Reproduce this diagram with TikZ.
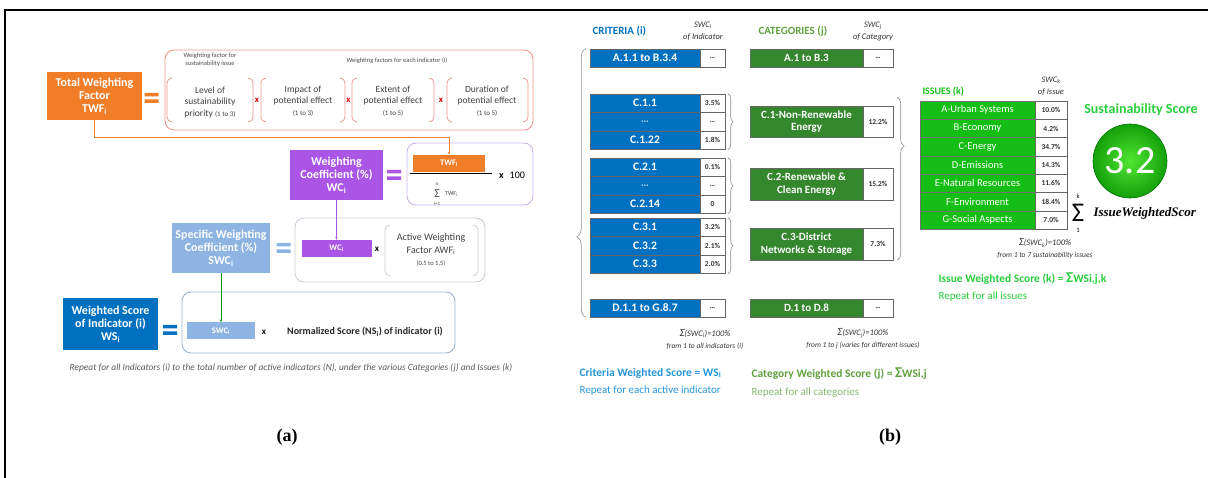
\documentclass[tikz,border=0pt]{standalone}
\usepackage{fontspec}
\setmainfont{Carlito}
\newfontfamily\labfont{Liberation Serif}
\usepackage{tikz}
\usetikzlibrary{decorations.pathreplacing, arrows.meta}

\definecolor{twfOrange}{RGB}{240,125,40}
\definecolor{wcPurple}{RGB}{170,85,230}
\definecolor{swcBlue}{RGB}{141,180,226}
\definecolor{wsBlue}{RGB}{0,112,192}
\definecolor{catGreen}{RGB}{52,135,45}
\definecolor{issueGreen}{RGB}{20,190,20}
\definecolor{scoreGreen}{RGB}{40,205,60}
\definecolor{ballLight}{RGB}{80,230,50}
\definecolor{ballDark}{RGB}{20,160,10}
\definecolor{redLine}{RGB}{240,150,140}
\definecolor{lavLine}{RGB}{205,180,235}
\definecolor{greyLine}{RGB}{205,205,215}
\definecolor{nsLine}{RGB}{160,180,205}
\definecolor{critText}{RGB}{35,150,215}
\definecolor{catText}{RGB}{95,160,60}
\definecolor{noteGrey}{RGB}{90,90,90}

\begin{document}
\begin{tikzpicture}[x=1pt, y=-1pt,
    fbox/.style={inner sep=0pt, align=center, text=white, font=\fontsize{12}{13}\selectfont\bfseries},
    roundbox/.style={draw, rounded corners=9pt, line width=0.9pt, inner sep=0pt},
    chip/.style={inner sep=0pt, text=white, font=\fontsize{8.5}{9}\selectfont\bfseries},
    paren/.style={rounded corners=5pt, line width=0.8pt},
    factor/.style={align=center, text=black!75, font=\fontsize{9.5}{11.5}\selectfont},
    times/.style={font=\fontsize{9}{9}\selectfont\bfseries},
    limit/.style={inner sep=0pt, font=\fontsize{5}{5}\selectfont},
    crit/.style={draw=black!60, line width=0.4pt, fill=wsBlue, inner sep=0pt, minimum width=110, minimum height=18.5, text=white, font=\fontsize{11.5}{13}\selectfont\bfseries},
    cat/.style={draw=black!60, line width=0.4pt, fill=catGreen, inner sep=0pt, minimum width=113, text=white, align=center, font=\fontsize{11}{12.5}\selectfont\bfseries},
    issue/.style={draw=black!55, line width=0.4pt, fill=issueGreen, inner sep=0pt, minimum width=115, minimum height=18.3, text=white, font=\fontsize{10.5}{12}\selectfont},
    cell/.style={draw=black!60, line width=0.4pt, fill=white, inner sep=0pt, text=black!80, font=\fontsize{7.5}{9}\selectfont\bfseries},
    swchead/.style={align=center, font=\fontsize{8.5}{12}\selectfont\itshape, text=black!80},
    sumnote/.style={align=center, font=\fontsize{8.5}{12}\selectfont\itshape, text=black!80},
    curly/.style={decorate, draw=black!45, line width=0.6pt},
]
    \useasboundingbox (0,0) rectangle (1208,478);
    \draw[line width=1.5pt] (5,478) -- (5,10) -- (1208,10);

    % (a) Total Weighting Factor
    \node[fbox, fill=twfOrange, minimum width=95, minimum height=48] (twf) at (94.5,96) {Total Weighting\\Factor\\TWF\textsubscript{i}};
    \node[roundbox, draw=redLine, minimum width=368, minimum height=80] (factors) at (349,90) {};
    \node[font=\fontsize{6.5}{8}\selectfont, align=center, text=black!70] (issuenote) at (210,60) {Weighting factor for\\sustainability issue};
    \node[font=\fontsize{6.5}{8}\selectfont, text=black!70] (indnote) at (397,61) {Weighting factors for each indicator (i)};
    \node[factor] (level) at (210,102) {Level of\\sustainability\\priority {\fontsize{7}{8}\selectfont(1 to 3)}};
    \node[factor] (impact) at (303,101) {Impact of\\potential effect\\{\fontsize{7}{8}\selectfont(1 to 3)}};
    \node[factor] (extent) at (393,101) {Extent of\\potential effect\\{\fontsize{7}{8}\selectfont(1 to 5)}};
    \node[factor] (duration) at (487,101) {Duration of\\potential effect\\{\fontsize{7}{8}\selectfont(1 to 5)}};
    \foreach \l/\r in {167/253, 261/345, 352/434, 447/528} {
        \draw[paren, draw=redLine] (\l+5,78) -- (\l,78) -- (\l,122) -- (\l+5,122);
        \draw[paren, draw=redLine] (\r-5,78) -- (\r,78) -- (\r,122) -- (\r-5,122);
    }
    \foreach \xx [count=\k] in {257, 348.5, 441}
        \node[times, text=red!85!black] (mul\k) at (\xx,100) {x};

    % equals signs
    \foreach \xx/\yy/\col in {151.5/98/twfOrange, 394/175/wcPurple, 283.5/248/swcBlue, 170/330/wsBlue}
        \fill[\col] (\xx-7,\yy-5) rectangle (\xx+7,\yy-1.5) (\xx-7,\yy+1.5) rectangle (\xx+7,\yy+5);

    % (a) Weighting Coefficient
    \node[fbox, fill=wcPurple, minimum width=93, minimum height=50] (wc) at (336.5,175) {Weighting\\Coefficient (\%)\\WC\textsubscript{i}};
    \node[roundbox, draw=lavLine, minimum width=126, minimum height=62] (fracbox) at (470,174) {};
    \node[chip, fill=twfOrange, minimum width=72, minimum height=17] (twfnum) at (449,163.5) {TWF\textsubscript{i}};
    \draw[line width=0.9pt] (410,173) -- (492,173);
    \node[inner sep=0pt, font=\fontsize{12}{12}\selectfont, text=black!75] (twfsig) at (437,194) {Σ};
    \node[limit, text=black!75] (twfn) at (437,184) {n};
    \node[limit, text=black!75] (twfi) at (437,203.5) {i=1};
    \node[anchor=west, inner sep=0pt, font=\fontsize{6}{7}\selectfont, text=black!75] (twfden) at (445,194) {TWF\textsubscript{i}};
    \node[font=\fontsize{10}{12}\selectfont] (hundred) at (512,175) {\textbf{x}\hspace{6pt}100};
    \draw[twfOrange, line width=0.9pt, -{Stealth[length=3pt]}] (twf.south) -- ++(0,17) -| (twfnum.north);

    % (a) Specific Weighting Coefficient
    \node[fbox, fill=swcBlue, minimum width=98, minimum height=50] (swc) at (221,248) {Specific Weighting\\Coefficient (\%)\\SWC\textsubscript{i}};
    \node[roundbox, draw=greyLine, minimum width=190, minimum height=64] (awfbox) at (390,250) {};
    \node[chip, fill=wcPurple, minimum width=70, minimum height=17] (wcsmall) at (336.5,248.5) {WC\textsubscript{i}};
    \node[times] (mul4) at (377,249) {x};
    \node[factor, font=\fontsize{10}{12.5}\selectfont] (awf) at (431,250) {Active Weighting\\Factor AWF\textsubscript{i}\\{\fontsize{6.5}{8}\selectfont(0.5 to 1.5)}};
    \draw[paren, draw=greyLine] (390,225) -- (385,225) -- (385,276) -- (390,276);
    \draw[paren, draw=greyLine] (473,225) -- (478,225) -- (478,276) -- (473,276);
    \draw[wcPurple, line width=0.9pt, -{Stealth[length=3pt]}] (wc.south) -- (wcsmall.north);

    % (a) Weighted Score
    \node[fbox, fill=wsBlue, minimum width=95, minimum height=52] (ws) at (110.5,324) {Weighted Score\\of Indicator (i)\\WS\textsubscript{i}};
    \node[roundbox, draw=nsLine, minimum width=273, minimum height=61] (nsbox) at (318.5,322.5) {};
    \node[chip, fill=swcBlue, minimum width=68, minimum height=17] (swcsmall) at (221,331) {SWC\textsubscript{i}};
    \node[times] (mul5) at (264,332) {x};
    \node[font=\fontsize{10}{11}\selectfont\bfseries, text=black!85] (ns) at (365,332) {Normalized Score (NS\textsubscript{i}) of indicator (i)};
    \draw[green!60!black, line width=0.9pt, -{Stealth[length=3pt]}] (swc.south) -- (swcsmall.north);
    \node[font=\fontsize{9.4}{10}\selectfont\itshape, text=noteGrey] (note) at (291,368) {Repeat for all Indicators (i) to the total number of active indicators (N), under the various Categories (j) and Issues (k)};

    % panel labels
    \node[font=\labfont\fontsize{18}{20}\selectfont\bfseries] (laba) at (287,437) {(a)};
    \node[font=\labfont\fontsize{18}{20}\selectfont\bfseries] (labb) at (890,437) {(b)};

    % (b) Criteria
    \node[anchor=west, font=\fontsize{11}{13}\selectfont\bfseries, text=wsBlue] (crithead) at (589,31) {CRITERIA (i)};
    \node[swchead] (critswc) at (703,31) {SWC\textsubscript{i}\\of Indicator};
    \foreach \lab/\val/\yy [count=\k] in {A.1.1 to B.3.4/\ldots/58, C.1.1/3.5\%/103.25, {\color{white!65!wsBlue}\ldots}/\ldots/121.75, C.1.22/1.8\%/140.25, C.2.1/0.1\%/167.25, {\color{white!65!wsBlue}\ldots}/\ldots/185.75, C.2.14/0/204.25, C.3.1/3.2\%/227.25, C.3.2/2.1\%/245.75, C.3.3/2.0\%/264.25, D.1.1 to G.8.7/\ldots/308} {
        \node[crit] (crit\k) at (645,\yy) {\lab};
        \node[cell, minimum width=25, minimum height=18.5] (critv\k) at (712.5,\yy) {\val};
    }

    % (b) Categories
    \node[anchor=west, font=\fontsize{11}{13}\selectfont\bfseries, text=catText] (cathead) at (755,31) {CATEGORIES (j)};
    \node[swchead] (catswc) at (873,31) {SWC\textsubscript{j}\\of Category};
    \foreach \lab/\val/\yy/\hh [count=\k] in {A.1 to B.3/\ldots/58/18.5, {C.1-Non-Renewable\\Energy}/12.2\%/121.75/31, {C.2-Renewable \&\\Clean Energy}/15.2\%/184/32, {C.3-District\\Networks \& Storage}/7.3\%/244/32, D.1 to D.8/\ldots/308/18.5} {
        \node[cat, minimum height=\hh] (cat\k) at (806.5,\yy) {\lab};
        \node[cell, minimum width=30, minimum height=\hh] (catv\k) at (878,\yy) {\val};
    }

    % braces
    \foreach \a/\b in {2/4, 5/7, 8/10}
        \draw[curly, decoration={brace, amplitude=5pt}] ([xshift=3pt]critv\a.north east) -- ([xshift=3pt]critv\b.south east);
    \draw[curly, decoration={brace, amplitude=9pt, aspect=0.3}] ([xshift=-4pt]crit11.south west) -- ([xshift=-4pt]crit1.north west);
    \draw[curly, decoration={brace, amplitude=7pt, aspect=0.3}] ([xshift=4pt,yshift=9pt]catv2.north east) -- ([xshift=4pt]catv4.south east);

    % (b) Issues
    \node[anchor=west, font=\fontsize{10}{12}\selectfont\bfseries, text=issueGreen] (isshead) at (919,92) {ISSUES (k)};
    \node[swchead] (issswc) at (1051,86) {SWC\textsubscript{k}\\of Issue};
    \foreach \lab/\val [count=\k] in {A-Urban Systems/10.0\%, B-Economy/4.2\%, C-Energy/34.7\%, D-Emissions/14.3\%, E-Natural Resources/11.6\%, F-Environment/18.4\%, G-Social Aspects/7.0\%} {
        \node[issue] (iss\k) at (977.5,{101+(\k-0.5)*18.3}) {\lab};
        \node[cell, minimum width=32, minimum height=18.3] (issv\k) at (1051,{101+(\k-0.5)*18.3}) {\val};
    }

    % (b) Sustainability score
    \node[font=\fontsize{14}{16}\selectfont\bfseries, text=scoreGreen] (scorehead) at (1141,110) {Sustainability Score};
    \node[circle, minimum size=74, inner sep=0pt, draw=green!45!black, line width=0.6pt, inner color=ballLight, outer color=ballDark, text=white, font=\fontsize{40}{40}\selectfont] (score) at (1130,161) {3.2};
    \node[inner sep=0pt, font=\fontsize{27}{27}\selectfont] (scoresig) at (1078,213) {Σ};
    \node[limit, font=\fontsize{6.5}{7}\selectfont] (scorek) at (1078,196) {k};
    \node[limit, font=\fontsize{6.5}{7}\selectfont] (scoreone) at (1078,230) {1};
    \node[anchor=west, font=\labfont\fontsize{13}{14}\selectfont\bfseries\itshape] (iws) at (1090,213) {IssueWeightedScor};

    % (b) sums and weighted scores
    \node[sumnote] (critsum) at (705,339) {{\fontsize{11}{12}\selectfont Σ}(SWC\textsubscript{i})=100\%\\{\fontsize{7.5}{9}\selectfont from 1 to all indicators (i)}};
    \node[sumnote] (catsum) at (863,339) {{\fontsize{11}{12}\selectfont Σ}(SWC\textsubscript{j})=100\%\\{\fontsize{7.5}{9}\selectfont from 1 to j (varies for different issues)}};
    \node[sumnote] (isssum) at (1045,249) {{\fontsize{11}{12}\selectfont Σ}(SWC\textsubscript{k})=100\%\\{\fontsize{7.5}{9}\selectfont from 1 to 7 sustainability issues}};
    \node[anchor=west, font=\fontsize{11.5}{13}\selectfont\bfseries, text=critText] (critws) at (576,373) {Criteria Weighted Score = WS\textsubscript{i}};
    \node[anchor=west, font=\fontsize{11}{13}\selectfont, text=critText] (critrep) at (576,391) {Repeat for each active indicator};
    \node[anchor=west, font=\fontsize{11.5}{13}\selectfont\bfseries, text=catText] (catws) at (748,374) {Category Weighted Score (j) = {\fontsize{15}{15}\selectfont Σ}WSi,j};
    \node[anchor=west, font=\fontsize{11}{13}\selectfont, text=catText!75!white] (catrep) at (748,393) {Repeat for all categories};
    \node[anchor=west, font=\fontsize{11.5}{13}\selectfont\bfseries, text=scoreGreen] (issws) at (935,279) {Issue Weighted Score (k) = {\fontsize{15}{15}\selectfont Σ}WSi,j,k};
    \node[anchor=west, font=\fontsize{11}{13}\selectfont, text=scoreGreen] (issrep) at (935,297) {Repeat for all issues};
\end{tikzpicture}
\end{document}
